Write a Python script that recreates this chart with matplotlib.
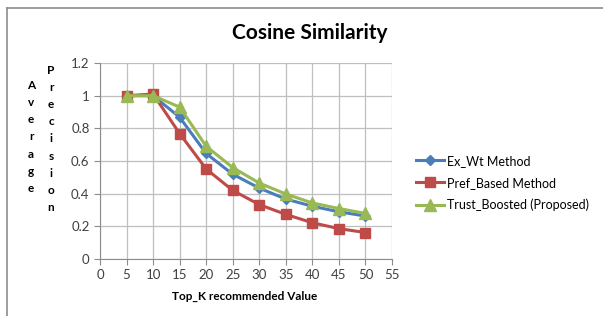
import matplotlib.pyplot as plt
from matplotlib.lines import Line2D

plt.rcParams['font.family'] = ['Lato', 'DejaVu Sans']

# Data
top_k = [5, 10, 15, 20, 25, 30, 35, 40, 45, 50]
ex_wt = [1.0, 1.0, 0.868, 0.646, 0.519, 0.434, 0.367, 0.323, 0.289, 0.263]
pref_based = [1.0, 1.01, 0.768, 0.551, 0.42, 0.333, 0.273, 0.222, 0.186, 0.162]
trust_boosted = [1.0, 1.0, 0.93, 0.69, 0.56, 0.465, 0.398, 0.343, 0.309, 0.279]
x_ticks = list(range(0, 56, 5))
y_ticks = [0, 0.2, 0.4, 0.6, 0.8, 1, 1.2]
y_tick_labels = ['0', '0.2', '0.4', '0.6', '0.8', '1', '1.2']

fig = plt.figure(figsize=(6.03, 3.16), dpi=100)
ax = fig.add_axes([100 / 603, 57 / 316, 292 / 603, 196 / 316])

# outer frame (left and top edges only, as in the reference)
fig.add_artist(Line2D([7 / 603, 7 / 603], [0, 1 - 8 / 316], color='#8c8c8c', lw=1.2))
fig.add_artist(Line2D([7 / 603, 1], [1 - 8 / 316, 1 - 8 / 316], color='#8c8c8c', lw=1.2))

ax.plot(top_k, ex_wt, color='#4a7ebb', lw=2.2, marker='D', markersize=5,
        label='Ex_Wt Method', zorder=3)
ax.plot(top_k, pref_based, color='#be4b48', lw=2.2, marker='s', markersize=7.5,
        label='Pref_Based Method', zorder=3)
ax.plot(top_k, trust_boosted, color='#98b954', lw=2.2, marker='^', markersize=8,
        label='Trust_Boosted (Proposed)', zorder=4)

ax.set_xlim(0, 55)
ax.set_ylim(0, 1.2)
ax.set_xticks(x_ticks)
ax.set_yticks(y_ticks)
ax.set_yticklabels(y_tick_labels)
ax.grid(True, color='#bfbfbf', lw=0.9)
ax.set_axisbelow(True)
for side in ['top', 'right']:
    ax.spines[side].set_visible(False)
for side in ['left', 'bottom']:
    ax.spines[side].set_color('#8c8c8c')
ax.tick_params(axis='both', colors='#8c8c8c', labelcolor='#404040',
               labelsize=9.5, length=4, direction='out')

fig.text(310 / 603, 1 - 33 / 316, 'Cosine Similarity', ha='center', va='center',
         fontsize=15, fontweight='bold')
fig.text(245 / 603, 1 - 296 / 316, 'Top_K recommended Value', ha='center',
         va='center', fontsize=8.5, fontweight='bold')

# stacked y-axis label letters
fig.text(31 / 603, 1 - 137 / 316, '\n'.join('Average'), ha='center', va='center',
         fontsize=8.5, fontweight='bold', linespacing=1.68)
fig.text(51 / 603, 1 - 139 / 316, '\n'.join('Precision'), ha='center', va='center',
         fontsize=8.5, fontweight='bold', linespacing=1.68)

fig.legend(loc='center left', bbox_to_anchor=(408 / 603, 1 - 183 / 316),
           frameon=False, fontsize=9.0, handlelength=2.3, labelspacing=0.8,
           handletextpad=0.25, borderaxespad=0.2)

plt.savefig('out.png', dpi=100)
plt.close()
